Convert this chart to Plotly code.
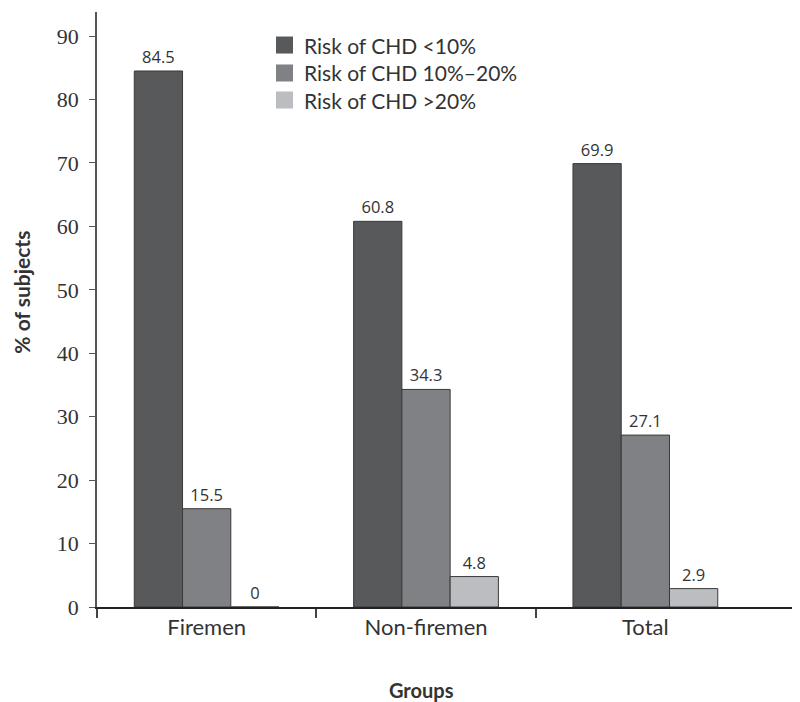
import plotly.graph_objects as go

groups = ["Firemen", "Non-firemen", "Total"]
series_names = ["Risk of CHD <10%", "Risk of CHD 10%\u201320%", "Risk of CHD >20%"]
risk_low = [84.5, 60.8, 69.9]
risk_mid = [15.5, 34.3, 27.1]
risk_high = [0, 4.8, 2.9]
y_ticks = [0, 10, 20, 30, 40, 50, 60, 70, 80, 90]

colors = ["#58595b", "#808184", "#bcbdc0"]
values = [risk_low, risk_mid, risk_high]
xpos = list(range(len(groups)))

fig = go.Figure()
for name, vals, col in zip(series_names, values, colors):
    fig.add_trace(go.Bar(
        x=xpos, y=vals, name=name,
        marker=dict(color=col, line=dict(color="#3a3a3a", width=1)),
        text=[f"{v:g}" for v in vals], textposition="outside",
        textfont=dict(family="Open Sans", size=16.5, color="#333333"),
        cliponaxis=False,
    ))

# manual legend
leg_y = [0.9445, 0.8975, 0.8521]
for name, col, yc in zip(series_names, colors, leg_y):
    fig.add_shape(type="rect", xref="paper", yref="paper",
                  x0=0.2546, x1=0.2788, y0=yc - 0.0143, y1=yc + 0.0143,
                  fillcolor=col, line=dict(width=0))
    fig.add_annotation(xref="paper", yref="paper", x=0.2916, y=yc,
                       xanchor="left", yanchor="middle", showarrow=False,
                       text=name, font=dict(family="Lato", size=21, color="#333333"))

fig.add_annotation(xref="paper", yref="paper", x=-0.1067, y=0.53,
                   xanchor="center", yanchor="middle", showarrow=False, textangle=-90,
                   text="<b>% of subjects</b>", font=dict(family="Lato", size=21, color="#333333"))
fig.add_annotation(xref="paper", yref="paper", x=0.4612, y=-0.139,
                   xanchor="center", yanchor="middle", showarrow=False,
                   text="<b>Groups</b>", font=dict(family="Lato", size=20, color="#333333"))

fig.update_layout(
    width=800, height=702,
    barmode="group", bargap=0.34, bargroupgap=0,
    plot_bgcolor="white", paper_bgcolor="white",
    margin=dict(l=89, r=8, t=4, b=103),
    showlegend=False,
    xaxis=dict(
        range=[-0.5, 2.705], showline=True, linecolor="#222222", linewidth=1.5,
        tickvals=xpos, ticktext=groups, ticks="", ticklen=0,
        minor=dict(tickvals=[-0.5, 0.5, 1.5], ticks="outside", ticklen=9,
                   tickcolor="#444444", tickwidth=1.5, showgrid=False),
        tickfont=dict(family="Lato", size=22, color="#333333"),
        showgrid=False, zeroline=False, automargin=False,
    ),
    yaxis=dict(
        range=[0, 93.8], tickvals=y_ticks, showline=True, linecolor="#555555", linewidth=1.5,
        ticks="outside", ticklen=6, tickcolor="#555555", ticklabelstandoff=6,
        tickfont=dict(family="Liberation Serif", size=22, color="#333333"),
        showgrid=False, zeroline=False, automargin=False,
    ),
)

fig.write_html("out.html")
